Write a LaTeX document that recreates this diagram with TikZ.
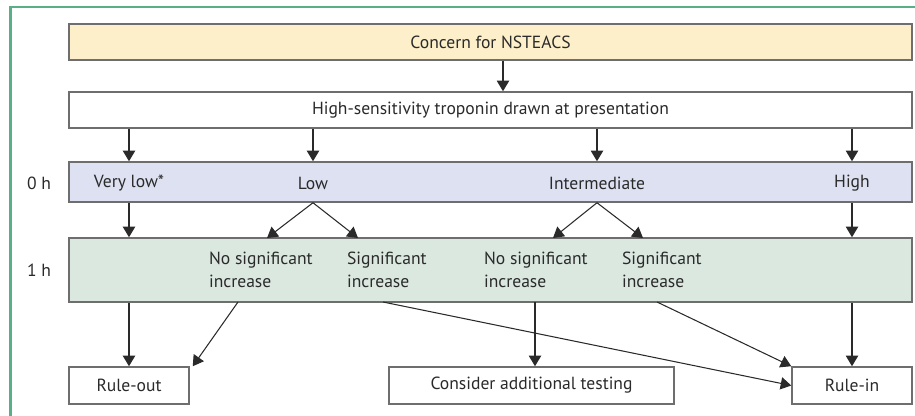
\documentclass[tikz,border=0pt]{standalone}
\usepackage{fontspec}
\setmainfont{PT Sans}
\definecolor{acsFrame}{HTML}{5AAE88}
\definecolor{acsLine}{HTML}{6E6E6E}
\definecolor{acsInk}{HTML}{2A2A2A}
\definecolor{acsYellow}{HTML}{FCEFC9}
\definecolor{acsLilac}{HTML}{DDE1F1}
\definecolor{acsSage}{HTML}{DAE8E0}
\usetikzlibrary{
	arrows.meta,
	positioning,
	calc
}

\begin{document}
\begin{tikzpicture}[
		font=\fontsize{10}{13}\selectfont, text=acsInk,
		box/.style={draw=acsLine, line width=0.85pt, minimum height=0.72cm, inner sep=0pt},
		wide/.style={box, minimum width=16.86cm},
		lab/.style={inner sep=1pt},
		twoline/.style={inner sep=1pt, anchor=west, align=left},
		flow/.style={-{Triangle[length=6pt, width=7pt]}, acsInk, line width=0.6pt}
	]
		\useasboundingbox (0,0) rectangle (18.3,8.32);
		\draw[acsFrame, line width=1.2pt] (0.21,0) -- (0.21,8.18) -- (18.3,8.18);
		% rows
		\node[wide, fill=acsYellow] (concern) at (9.81,7.48) {Concern for NSTEACS};
		\node[wide, fill=white] (trop) at (9.81,6.12) {High-sensitivity troponin drawn at presentation};
		\node[wide, fill=acsLilac, minimum height=0.8cm] (zero) at (9.81,4.68) {};
		\node[wide, fill=acsSage, minimum height=1.28cm] (onehour) at (9.81,2.92) {};
		\node[lab] (t0) at (0.78,4.66) {0 h};
		\node[lab] (t1) at (0.78,2.92) {1 h};
		% 0 h levels
		\node[lab] (vlow) at (2.58,4.66) {Very low*};
		\node[lab] (low) at (6.26,4.66) {Low};
		\node[lab] (inter) at (11.94,4.66) {Intermediate};
		\node[lab] (high) at (17.04,4.66) {High};
		% 1 h changes
		\node[twoline] (lowno) at (4.14,2.92) {No significant\\increase};
		\node[twoline] (lowyes) at (6.90,2.92) {Significant\\increase};
		\node[twoline] (interno) at (9.64,2.92) {No significant\\increase};
		\node[twoline] (interyes) at (12.40,2.92) {Significant\\increase};
		% outcomes
		\node[box, minimum width=2.4cm, minimum height=0.74cm] (ruleout) at (2.58,0.61) {Rule-out};
		\node[box, minimum width=5.7cm, minimum height=0.74cm] (consider) at (10.63,0.61) {Consider additional testing};
		\node[box, minimum width=2.4cm, minimum height=0.74cm] (rulein) at (17.04,0.61) {Rule-in};
		\coordinate (lowL) at (5.34,3.56);
		\coordinate (lowR) at (7.16,3.56);
		\coordinate (interL) at (11.06,3.56);
		\coordinate (interR) at (12.86,3.56);
		\coordinate (fromlowno) at (4.76,2.28);
		\coordinate (fromlowyes) at (7.66,2.28);
		\coordinate (frominterno) at (10.70,2.28);
		\coordinate (frominteryes) at (13.14,2.28);

		\draw[flow] (concern.south -| 10.06,0) -- (trop.north -| 10.06,0);
		\foreach \lv in {vlow,low,inter,high}{
			\draw[flow] (trop.south -| \lv) -- (zero.north -| \lv);
		}
		\draw[flow] (zero.south -| vlow) -- (onehour.north -| vlow);
		\draw[flow] (zero.south -| high) -- (onehour.north -| high);
		\draw[flow] (zero.south -| low) -- (lowL);
		\draw[flow] (zero.south -| low) -- (lowR);
		\draw[flow] (zero.south -| inter) -- (interL);
		\draw[flow] (zero.south -| inter) -- (interR);

		\draw[flow] (onehour.south -| ruleout) -- (ruleout.north);
		\draw[flow] (fromlowno) -- ([xshift=0.06cm]ruleout.north east);
		\draw[flow] (fromlowyes) -- (rulein.west);
		\draw[flow] (frominterno) -- (consider.north -| frominterno);
		\draw[flow] (frominteryes) -- (rulein.north west);
		\draw[flow] (onehour.south -| rulein) -- (rulein.north);
	\end{tikzpicture}
\end{document}
